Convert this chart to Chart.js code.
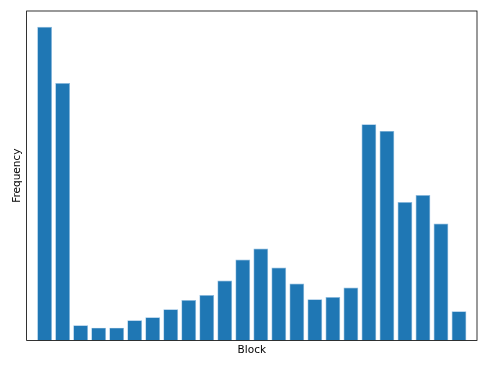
<!DOCTYPE html>
<html>
<head>
<meta charset="utf-8">
<script src="https://cdn.jsdelivr.net/npm/chart.js@4/dist/chart.umd.min.js"></script>
<style>
html,body{margin:0;padding:0;background:#fff;}
#wrap{width:489px;height:367px;}
</style>
</head>
<body>
<div id="wrap"><canvas id="c" width="489" height="367"></canvas></div>
<script>
const blocks = [1,2,3,4,5,6,7,8,9,10,11,12,13,14,15,16,17,18,19,20,21,22,23,24];
const frequency = [313,256.7,15,12.7,12.7,20,23,31,40.3,45.3,59.7,80.7,91.7,72.7,56.7,41,43.3,52.7,215.7,209,138,145,116.7,29];

const n = blocks.length;
const yMax = Math.max(...frequency) * 1.05;

const framePlugin = {
  id: 'frame',
  afterDraw(chart) {
    const a = chart.chartArea, ctx = chart.ctx;
    ctx.save();
    ctx.strokeStyle = '#000';
    ctx.lineWidth = 0.8;
    ctx.strokeRect(a.left, a.top, a.right - a.left, a.bottom - a.top);
    ctx.restore();
  }
};

new Chart(document.getElementById('c'), {
  type: 'bar',
  data: {
    datasets: [{
      data: frequency.map((v, i) => ({x: blocks[i], y: v})),
      backgroundColor: '#1f77b4',
      borderColor: '#8dbbe0',
      borderWidth: {left: 0.7, right: 0.7, top: 0.7, bottom: 0},
      categoryPercentage: 1,
      barPercentage: 0.82
    }]
  },
  options: {
    responsive: false,
    animation: false,
    layout: {padding: {left: 7, right: 12, top: 11, bottom: 6}},
    plugins: {legend: {display: false}, tooltip: {enabled: false}},
    scales: {
      x: {
        type: 'linear',
        offset: false,
        min: 0,
        max: n + 1,
        ticks: {display: false},
        grid: {display: false},
        border: {display: false},
        title: {display: true, text: 'Block', color: '#000', padding: {top: -4, bottom: 4}, font: {family: 'DejaVu Sans', size: 10.5}}
      },
      y: {
        min: 0,
        max: yMax,
        ticks: {display: false},
        grid: {display: false},
        border: {display: false},
        title: {display: true, text: 'Frequency', color: '#000', padding: {top: 4, bottom: -5}, font: {family: 'DejaVu Sans', size: 10.5}}
      }
    }
  },
  plugins: [framePlugin]
});
</script>
</body>
</html>
